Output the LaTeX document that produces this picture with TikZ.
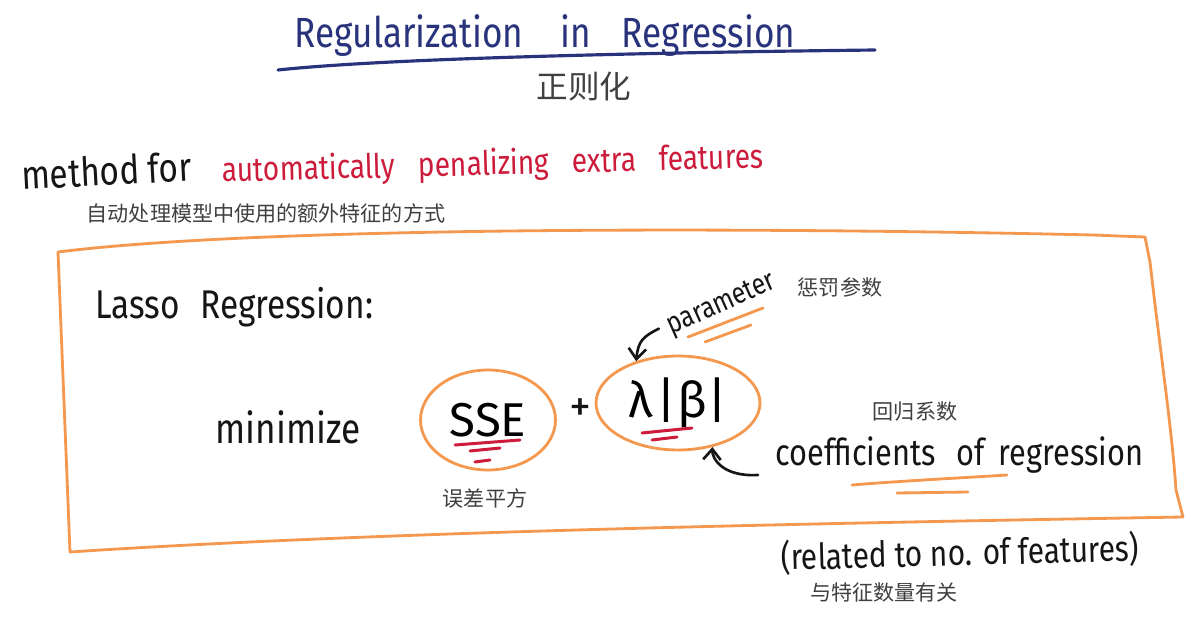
\documentclass[tikz,border=0pt]{standalone}
\usepackage{fontspec}
\usepackage{graphicx}
\setmainfont{Fira Sans}
\newfontfamily\cjk{Noto Sans CJK SC}
\usetikzlibrary{shapes.geometric,arrows.meta}
\definecolor{navyink}{HTML}{28337C}
\definecolor{penorange}{HTML}{F4984F}
\definecolor{crimson}{HTML}{CC1B3B}
\definecolor{inkblack}{HTML}{151515}
\definecolor{notegray}{HTML}{404040}
\newcommand{\penwrite}[1]{\scalebox{1}[1.2]{#1}}

\begin{document}
\begin{tikzpicture}[x=0.02cm,y=-0.02cm,
    hand/.style={text=inkblack,inner sep=0pt},
    cn/.style={text=notegray,inner sep=0pt,font=\cjk\fontsize{12}{14}\selectfont},
    orangestroke/.style={draw=penorange,line width=1.6pt,line cap=round,line join=round},
    redstroke/.style={draw=crimson,line width=1.7pt,line cap=round},
    ring/.style={ellipse,draw=penorange,line width=1.6pt,inner sep=0pt},
    pointer/.style={draw=inkblack,line width=1.5pt,line cap=round,-{Straight Barb[length=6pt,width=10pt]}}]
  \fill[white] (0,0) rectangle (1198,628);
  \useasboundingbox (0,0) rectangle (1198,628);
  % title
  \node[text=navyink,inner sep=0pt,font=\fontsize{20}{24}\selectfont] (title) at (545,36)
    {\penwrite{Regularization\hspace{0.8em} in\hspace{0.6em} Regression}};
  \draw[navyink,line width=1.8pt,line cap=round] (278,70) .. controls (400,57) and (700,52) .. (875,50);
  \node[cn,font=\cjk\fontsize{18}{20}\selectfont] (titlecn) at (584,87) {正则化};
  % definition
  \node[hand,font=\fontsize{19}{22}\selectfont,rotate=3,anchor=base west] (method) at (22,190) {\penwrite{method for}};
  \node[hand,text=crimson,font=\fontsize{16}{20}\selectfont,rotate=1.5,anchor=base west] (penalty) at (222,182)
    {\penwrite{automatically\hspace{0.55em} penalizing\hspace{0.55em} extra\hspace{0.55em} features}};
  \node[cn] (penaltycn) at (266,213) {自动处理模型中使用的额外特征的方式};
  % box
  \draw[orangestroke] (58,252) .. controls (250,228) and (700,226) .. (1093,235) -- (1145,237)
    -- (1150,262) .. controls (1160,350) and (1172,430) .. (1176,490) -- (1183,517)
    .. controls (900,522) and (400,530) .. (70,552) -- cycle;
  \node[hand,font=\fontsize{19}{22}\selectfont,anchor=west] (lasso) at (95,307) {\penwrite{Lasso\hspace{0.35em} Regression:}};
  \node[hand,font=\fontsize{20}{22}\selectfont] (minimize) at (288,427) {\penwrite{minimize}};
  % formula
  \node[ring,minimum width=2.7cm,minimum height=2.0cm,font=\fontsize{27}{30}\selectfont] (sse) at (488,420) {SSE};
  \node[hand,font=\fontsize{25}{28}\selectfont] (plus) at (580,410) {+};
  \node[ring,minimum width=3.28cm,minimum height=1.88cm,font=\fontsize{28}{30}\selectfont] (lam) at (678,403) {λ\hspace{0.08em}|\hspace{0.02em}β|};
  \draw[redstroke] (455,445) -- (520,440);
  \draw[redstroke] (470,451) -- (500,448);
  \draw[redstroke] (475,462) -- (490,460);
  \draw[redstroke] (642,433) -- (692,428);
  \draw[redstroke] (652,440) -- (677,437);
  \node[cn] (ssecn) at (485,498) {误差平方};
  % labels
  \node[hand,font=\fontsize{14}{16}\selectfont,rotate=24] (param) at (722,305) {\penwrite{parameter}};
  \draw[orangestroke] (688,337) -- (763,308);
  \draw[orangestroke] (705,342) -- (751,325);
  \draw[pointer] ([xshift=-0.2cm]param.west) .. controls +(-16,8) and +(2,-20) .. (lam.135);
  \node[cn] (paramcn) at (840,287) {惩罚参数};
  \node[hand,font=\fontsize{17.5}{22}\selectfont,anchor=west] (coef) at (775,455) {\penwrite{coefficients\hspace{0.4em} of\hspace{0.2em} regression}};
  \draw[pointer] ([shift={(-17,20)}]coef.west) .. controls (722,477) and (712,458) .. (lam.-52);
  \draw[orangestroke] (852,485) .. controls (900,481) and (960,478) .. (1007,475);
  \draw[orangestroke] (897,493) -- (968,492);
  \node[cn] (coefcn) at (915,412) {回归系数};
  \node[hand,font=\fontsize{17}{20}\selectfont,rotate=1.5] (related) at (960,553) {\penwrite{(related to no. of features)}};
  \node[cn] (relatedcn) at (884,593) {与特征数量有关};
\end{tikzpicture}
\end{document}
